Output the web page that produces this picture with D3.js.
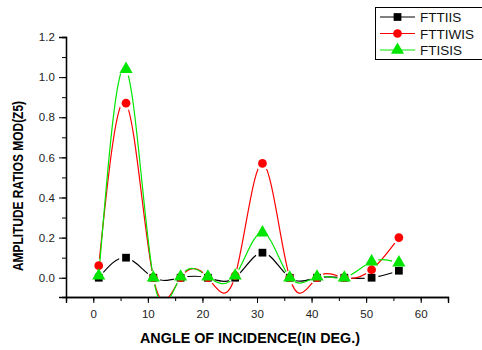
<!DOCTYPE html>
<html><head><meta charset="utf-8">
<script src="https://cdn.jsdelivr.net/npm/d3@7"></script>
<style>body{margin:0;background:#fff}svg{display:block}text{font-family:Arial,"Liberation Sans",sans-serif}</style>
</head><body>
<svg id="c" width="482" height="350"></svg>
<script>
const angles = [1, 6, 11, 16, 21, 26, 31, 36, 41, 46, 51, 56];
const fttiis  = [0.0, 0.10, 0.0, 0.0, 0.0, 0.0, 0.125, 0.0, 0.0, 0.0, 0.0, 0.035];
const fttiwis = [0.06, 0.87, 0.0, 0.0, 0.0, 0.01, 0.57, 0.0, 0.0, 0.0, 0.04, 0.20];
const ftisis  = [0.01, 1.04, 0.0, 0.005, 0.005, 0.01, 0.225, 0.0, 0.005, 0.0, 0.08, 0.075];
const seriesNames = ["FTTIIS", "FTTIWIS", "FTISIS"];
const xTicks = [0, 10, 20, 30, 40, 50, 60];
const yTicks = [0.0, 0.2, 0.4, 0.6, 0.8, 1.0, 1.2];

const series = [
  {name: seriesNames[0], vals: fttiis, color: "#000000", sym: d3.symbolSquare, size: 60},
  {name: seriesNames[1], vals: fttiwis, color: "#ff0000", sym: d3.symbolCircle, size: 60},
  {name: seriesNames[2], vals: ftisis, color: "#00e600", sym: d3.symbolTriangle, size: 75}
];

const svg = d3.select("#c");
const L = 66, R = 448, T = 37, B = 297;
const x = d3.scaleLinear().domain([-5, 65]).range([L, R]);
const y = d3.scaleLinear().domain([-0.096, 1.2]).range([B, T]);

const defs = svg.append("defs");
defs.append("clipPath").attr("id", "clip").append("rect")
  .attr("x", L).attr("y", 0).attr("width", R - L).attr("height", B - 0);

// axes
const xAxis = svg.append("g").attr("transform", `translate(0,${B})`);
xAxis.call(d3.axisBottom(x).tickValues(d3.range(-5, 66, 5)).tickSize(4).tickFormat(""));
xAxis.append("g").call(d3.axisBottom(x).tickValues(xTicks).tickSize(6).tickFormat(d3.format("d")));
xAxis.selectAll(".domain").attr("stroke", "#000").attr("stroke-width", 1.3);
xAxis.selectAll("text").attr("font-size", 11.5).attr("fill", "#222").attr("dy", "1.05em");

const yAxis = svg.append("g").attr("transform", `translate(${L},0)`);
yAxis.call(d3.axisLeft(y).tickValues(d3.range(-0.1, 1.25, 0.1).map(v => +v.toFixed(2)).filter(v => v <= 1.2 && v >= -0.09)).tickSize(4).tickFormat(""));
yAxis.append("g").call(d3.axisLeft(y).tickValues(yTicks).tickSize(7).tickFormat(d3.format(".1f")));
yAxis.selectAll(".domain").attr("stroke", "#000").attr("stroke-width", 1.3);
yAxis.selectAll("text").attr("font-size", 11.5).attr("fill", "#222").attr("dx", "-0.1em");

// masks for gaps around symbols
series.forEach((s, i) => {
  const m = defs.append("mask").attr("id", "m" + i).attr("maskUnits", "userSpaceOnUse")
    .attr("x", 0).attr("y", 0).attr("width", 482).attr("height", 350);
  m.append("rect").attr("width", 482).attr("height", 350).attr("fill", "#fff");
  angles.forEach((a, j) => {
    m.append("circle").attr("cx", x(a)).attr("cy", y(s.vals[j])).attr("r", 7).attr("fill", "#000");
  });
});

const line = d3.line().x((d, j) => x(angles[j])).y(d => y(d)).curve(d3.curveNatural);
const plot = svg.append("g").attr("clip-path", "url(#clip)");
series.forEach((s, i) => {
  plot.append("g").attr("mask", `url(#m${i})`).append("path")
    .attr("d", line(s.vals)).attr("fill", "none").attr("stroke", s.color).attr("stroke-width", 1.2);
});
series.forEach(s => {
  svg.append("g").selectAll("path").data(s.vals).join("path")
    .attr("transform", (d, j) => `translate(${x(angles[j])},${y(d)})`)
    .attr("d", d3.symbol().type(s.sym).size(s.size)).attr("fill", s.color);
});

// labels
svg.append("text").attr("x", 250).attr("y", 343).attr("text-anchor", "middle")
  .attr("font-size", 14).attr("font-weight", "bold").attr("textLength", 220).attr("lengthAdjust", "spacingAndGlyphs")
  .text("ANGLE OF INCIDENCE(IN DEG.)");
svg.append("text").attr("transform", "translate(23,186) rotate(-90)").attr("text-anchor", "middle")
  .attr("font-size", 14).attr("font-weight", "bold").attr("textLength", 170).attr("lengthAdjust", "spacingAndGlyphs")
  .text("AMPLITUDE RATIOS MOD(Z5)");

// legend
const lg = svg.append("g");
lg.append("rect").attr("x", 375.5).attr("y", 7.5).attr("width", 120).attr("height", 52)
  .attr("fill", "#fff").attr("stroke", "#000").attr("stroke-width", 1);
series.forEach((s, i) => {
  const yy = 17 + i * 16.5;
  lg.append("line").attr("x1", 380).attr("x2", 415).attr("y1", yy).attr("y2", yy).attr("stroke", s.color).attr("stroke-width", 1);
  lg.append("path").attr("transform", `translate(397.5,${yy})`).attr("d", d3.symbol().type(s.sym).size(s.size)).attr("fill", s.color);
  lg.append("text").attr("x", 420).attr("y", yy + 5).attr("font-size", 13.5).attr("fill", "#111").text(s.name);
});
</script>
</body></html>
